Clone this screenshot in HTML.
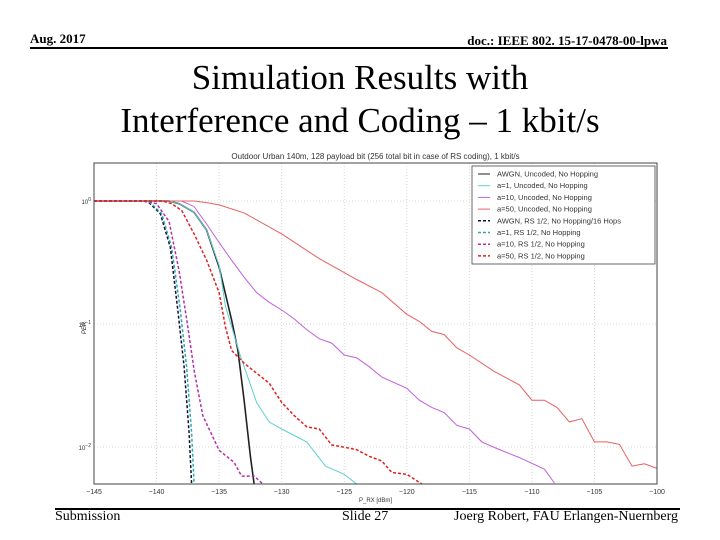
<!DOCTYPE html>
<html><head><meta charset="utf-8"><style>
body{margin:0;background:#fff;width:720px;height:540px;overflow:hidden;font-family:"Liberation Serif",serif}
.abs{position:absolute;white-space:nowrap}
</style></head><body>
<div class="abs" style="left:30px;top:31px;font-size:13px;font-weight:bold">Aug. 2017</div>
<div class="abs" style="right:53px;top:33px;font-size:13px;font-weight:bold">doc.: IEEE 802. 15-17-0478-00-lpwa</div>
<div class="abs" style="left:30px;top:47px;width:638px;height:2px;background:#000"></div>
<div class="abs" style="left:0;width:720px;top:56px;text-align:center;font-size:35px;line-height:43px">Simulation Results with<br>Interference and Coding – 1 kbit/s</div>
<div class="abs" style="left:55px;top:508px;width:625px;height:2px;background:#000"></div>
<div class="abs" style="left:55px;top:509px;font-size:14px">Submission</div>
<div class="abs" style="left:342px;top:509px;font-size:14px">Slide 27</div>
<div class="abs" style="right:42px;top:509px;font-size:14px">Joerg Robert, FAU Erlangen-Nuernberg</div>
<svg id="chart" width="720" height="540" style="position:absolute;left:0;top:0" font-family="Liberation Sans, sans-serif"></svg>
<script>
const xTicks=[-145,-140,-135,-130,-125,-120,-115,-110,-105,-100];
const yTicks=[0,-1,-2];
const seriesNames=["AWGN, Uncoded, No Hopping","a=1, Uncoded, No Hopping","a=10, Uncoded, No Hopping","a=50, Uncoded, No Hopping","AWGN, RS 1/2, No Hopping/16 Hops","a=1, RS 1/2, No Hopping","a=10, RS 1/2, No Hopping","a=50, RS 1/2, No Hopping"];
const colors=["#222","#5fd0d0","#c060d8","#e86060","#113","#30a8b0","#b030b0","#e02020"];
const dashed=[false,false,false,false,true,true,true,true];
const awgnX=[-145,-139,-138.2,-137,-136,-135,-134,-133.5,-133,-132.5,-132.2];
const awgnY=[1,1,0.95,0.81,0.58,0.29,0.108,0.061,0.024,0.0084,0.005];
const a1X=[-145,-139,-138.2,-137,-136,-135,-134.5,-133.3,-132,-131,-130,-128,-126.5,-125,-124];
const a1Y=[1,1,0.95,0.81,0.58,0.3,0.14,0.055,0.023,0.016,0.014,0.011,0.007,0.006,0.005];
const a10X=[-145,-138,-137,-136,-135,-134,-133,-132,-131,-130,-129,-128,-127,-126,-125,-124,-123,-122,-120,-119,-118,-117,-116,-115,-114,-113,-111,-109,-108.2];
const a10Y=[1,1,0.9,0.65,0.46,0.33,0.24,0.18,0.15,0.13,0.11,0.09,0.076,0.07,0.056,0.053,0.045,0.037,0.03,0.024,0.021,0.019,0.015,0.014,0.011,0.0099,0.0082,0.0066,0.0051];
const a50X=[-145,-137,-136,-135,-133,-130,-127,-124,-122,-120,-119,-118,-117,-116,-115,-113,-111,-110,-109,-108,-107,-106,-105,-104,-103,-102,-101,-100];
const a50Y=[1,1,0.97,0.93,0.8,0.54,0.34,0.23,0.18,0.12,0.105,0.087,0.082,0.064,0.056,0.041,0.032,0.024,0.024,0.021,0.016,0.017,0.011,0.011,0.0105,0.007,0.0073,0.0067];
const awgnRsX=[-145,-141,-140.6,-139.7,-138.9,-138.3,-137.8,-137.4,-137.2];
const awgnRsY=[1,1,0.97,0.79,0.42,0.13,0.045,0.013,0.005];
const a1RsX=[-145,-141,-140.5,-139.6,-138.8,-138.1,-137.6,-137.2,-137.0];
const a1RsY=[1,1,0.97,0.79,0.42,0.13,0.045,0.013,0.005];
const a10RsX=[-145,-141,-140,-139,-138.2,-137.5,-137,-136.3,-135,-133.8,-133.2,-132.2,-131.5];
const a10RsY=[1,1,0.95,0.68,0.27,0.095,0.042,0.018,0.0094,0.0075,0.0058,0.0058,0.005];
const a50RsX=[-145,-139.5,-138.8,-138,-137,-136,-135,-134.5,-134,-133,-131,-130,-129,-128,-127,-126,-125.3,-124,-123,-122,-121.2,-120,-118.8];
const a50RsY=[1,1,0.95,0.84,0.54,0.33,0.18,0.095,0.061,0.048,0.033,0.023,0.018,0.0146,0.014,0.0104,0.0101,0.0095,0.0084,0.0077,0.0062,0.006,0.005];
const allX=[awgnX,a1X,a10X,a50X,awgnRsX,a1RsX,a10RsX,a50RsX];
const allY=[awgnY,a1Y,a10Y,a50Y,awgnRsY,a1RsY,a10RsY,a50RsY];

const L=94,R=657,T=163,B=484;
const sx=v=>L+(v+145)/45*(R-L);
const sy=v=>201-Math.log10(v)*123;
const svg=document.getElementById('chart');
const NS='http://www.w3.org/2000/svg';
function mk(t,a){const e=document.createElementNS(NS,t);for(const k in a)e.setAttribute(k,a[k]);svg.appendChild(e);return e;}
let e;
e=mk('text',{x:(L+R)/2,y:159,'font-size':8,'text-anchor':'middle',fill:'#333'});e.textContent="Outdoor Urban 140m, 128 payload bit (256 total bit in case of RS coding), 1 kbit/s";


xTicks.forEach(t=>{const x=sx(t);
 e=mk('line',{x1:x,x2:x,y1:T,y2:B,stroke:'#ccc','stroke-dasharray':'1,2','stroke-width':0.8});
 
 
 e=mk('text',{x:x,y:494,'font-size':7,'text-anchor':'middle',fill:'#333'});e.textContent=String(t).replace('-','\u2212');
 
 
});
yTicks.forEach(t=>{const y=sy(Math.pow(10,t));
 e=mk('line',{x1:L,x2:R,y1:y,y2:y,stroke:'#ccc','stroke-dasharray':'1,2','stroke-width':0.8});
 
 
 e=mk('text',{x:L-3,y:y+3,'font-size':6,'text-anchor':'end',fill:'#333'});e.innerHTML='10<tspan dy="-3" font-size="5">'+(t===0?'0':'\u2212'+(-t))+'</tspan>';
 
 
});
e=mk('text',{x:0,y:0,'font-size':6,'text-anchor':'middle',fill:'#333',transform:'translate(86,328) rotate(-90)','font-style':'italic'});e.textContent='PER';


e=mk('text',{x:(L+R)/2,y:502,'font-size':6,'text-anchor':'middle',fill:'#333'});e.textContent='P_RX [dBm]';


const g=mk('g',{'clip-path':'url(#clip)'});
const defs=mk('defs',{});defs.innerHTML='<clipPath id="clip"><rect x="'+L+'" y="'+T+'" width="'+(R-L)+'" height="'+(B-T)+'"/></clipPath>';
allX.forEach((xs,i)=>{
 const d=xs.map((x,j)=>(j?'L':'M')+sx(x).toFixed(1)+','+sy(allY[i][j]).toFixed(1)).join('');
 const p=document.createElementNS(NS,'path');
 p.setAttribute('d',d);p.setAttribute('fill','none');p.setAttribute('stroke',colors[i]);
 p.setAttribute('stroke-width',i===0?1.6:(dashed[i]?1.5:1));
 if(dashed[i])p.setAttribute('stroke-dasharray','3,2');
 
 
 g.appendChild(p);
});
e=mk('rect',{x:L,y:T,width:R-L,height:B-T,fill:'none',stroke:'#444','stroke-width':1});


e=mk('rect',{x:472,y:166,width:183,height:98,fill:'#fff',stroke:'#444','stroke-width':0.8});


seriesNames.forEach((n,i)=>{const y=174+i*11.7;
 e=mk('line',{x1:478,x2:490,y1:y,y2:y,stroke:colors[i],'stroke-width':dashed[i]?1.5:1,'stroke-dasharray':dashed[i]?'3,2':'none'});
 
 
 e=mk('text',{x:497,y:y+2.5,'font-size':7.5,fill:'#333'});e.textContent=n;
 
 
});
</script>
</body></html>
